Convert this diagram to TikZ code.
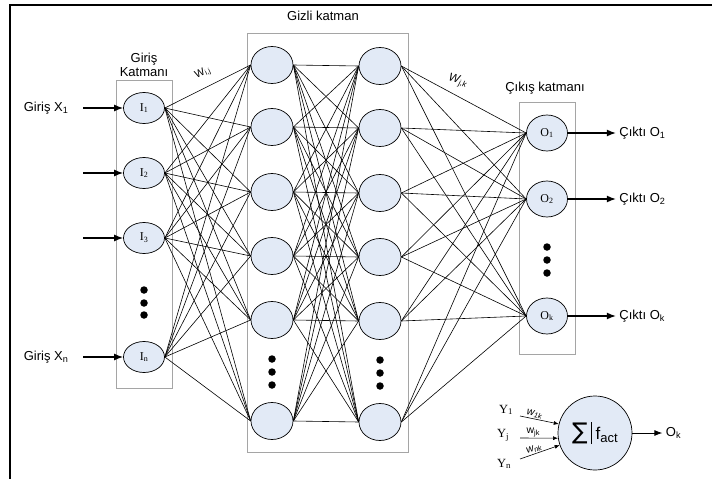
\documentclass[tikz,border=0pt]{standalone}
\usepackage{fontspec}
\setmainfont{Liberation Sans}
\newfontfamily\seriffont{Liberation Serif}
\newfontfamily\symbfont{DejaVu Sans}
\usepackage{tikz}
\usetikzlibrary{shapes,arrows.meta,positioning}

\definecolor{neuronblue}{RGB}{226,234,246}
\definecolor{boxgray}{RGB}{165,165,165}

\begin{document}
\begin{tikzpicture}[
        x=1pt, y=-1pt, line width=0.6pt, node distance=4pt,
        inout/.style={draw, ellipse, fill=neuronblue, line width=0.7pt,
                      minimum width=41pt, minimum height=31pt, inner sep=0pt,
                      font=\seriffont\fontsize{12}{13}\selectfont},
        hidden/.style={draw, ellipse, fill=neuronblue, line width=0.7pt,
                       minimum width=42pt, minimum height=37pt, inner sep=0pt},
        layerbox/.style={draw=boxgray, line width=0.9pt},
        bigdot/.style={fill, circle, inner sep=0pt, minimum size=7.5pt},
        txt/.style={font=\fontsize{13}{14}\selectfont},
        ytxt/.style={font=\seriffont\fontsize{12.5}{13}\selectfont},
        wtxt/.style={font=\fontsize{10.5}{11}\selectfont, inner sep=1pt},
        feed/.style={-{Latex[length=9pt,width=7pt]}, line width=1.3pt},
        thinfeed/.style={-{Latex[length=5pt,width=4pt]}, line width=0.6pt}
    ]
    \useasboundingbox (0,0) rectangle (712,479);
    \draw[line width=2pt] (10,479) -- (10,5) -- (712,5);

    % layer boxes
    \draw[layerbox] (116,80) rectangle (172,388);
    \draw[layerbox] (247,33) rectangle (408,452);
    \draw[layerbox] (519,102) rectangle (575,354);

    \node[txt, align=center] (tin) at (144,65) {Giriş\\Katmanı};
    \node[txt] (thid) at (323,16) {Gizli katman};
    \node[txt] (tout) at (545,88) {Çıkış katmanı};

    % input layer
    \node[inout] (i1) at (144,108) {I\textsubscript{1}};
    \node[inout] (i2) at (144,173) {I\textsubscript{2}};
    \node[inout] (i3) at (144,238) {I\textsubscript{3}};
    \node[inout] (in) at (144,357) {I\textsubscript{n}};
    \foreach \y in {290,303,315} \node[bigdot] at (144,\y) {};

    % hidden layers
    \foreach \y [count=\k] in {65,127,192,256,320,421} {
        \node[hidden] (a\k) at (272,\y) {};
        \node[hidden] (b\k) at (380,\y+1) {};
    }
    \foreach \y in {359,372,385} {
        \node[bigdot] at (272,\y) {};
        \node[bigdot] at (380,\y+1) {};
    }

    % output layer
    \node[inout, minimum height=36pt] (o1) at (547,133) {O\textsubscript{1}};
    \node[inout, minimum height=36pt] (o2) at (547,199) {O\textsubscript{2}};
    \node[inout, minimum height=36pt] (ok) at (547,316) {O\textsubscript{k}};
    \foreach \y in {247,260,273} \node[bigdot] at (547,\y) {};

    % weights
    \foreach \i in {1,2,3,n}
        \foreach \k in {1,...,6}
            \draw (i\i.east) -- (a\k.west);
    \foreach \j in {1,...,6}
        \foreach \k in {1,...,6}
            \draw (a\j.east) -- (b\k.west);
    \foreach \j in {1,...,6}
        \foreach \o in {1,2,k}
            \draw (b\j.east) -- (o\o.west);

    \node[wtxt, rotate=25] (wij) at (203,73) {W\textsubscript{i,j}};
    \node[wtxt, rotate=-15, font=\itshape\fontsize{11.5}{12}\selectfont] (wjk) at (458,81) {W\textsubscript{j,k}};

    % inputs
    \node[txt, anchor=east] (x1) at (72,108) {Giriş X\textsubscript{1}};
    \node[txt, anchor=east] (xn) at (72,357) {Giriş X\textsubscript{n}};
    \coordinate (x2) at (83,173);
    \coordinate (x3) at (83,238);
    \draw[feed, shorten <=11pt] (x1) -- (i1);
    \draw[feed] (x2) -- (i2);
    \draw[feed] (x3) -- (i3);
    \draw[feed, shorten <=11pt] (xn) -- (in);

    % outputs
    \node[txt, right=48pt of o1] (c1) {Çıktı O\textsubscript{1}};
    \node[txt, right=48pt of o2] (c2) {Çıktı O\textsubscript{2}};
    \node[txt, right=48pt of ok] (ck) {Çıktı O\textsubscript{k}};
    \draw[feed] (o1) -- (c1);
    \draw[feed] (o2) -- (c2);
    \draw[feed] (ok) -- (ck);

    % single neuron
    \node[draw, circle, fill=neuronblue, line width=0.7pt, minimum size=74pt, inner sep=0pt]
        (sum) at (595,433)
        {{\symbfont\fontsize{23}{24}\selectfont ∑}\hspace{3pt}\rule[-5pt]{1pt}{22pt}\hspace{4pt}{\fontsize{17}{18}\selectfont f\raisebox{-3pt}{\fontsize{13}{14}\selectfont act}}};
    \node[txt, right=30pt of sum] (osum) {O\textsubscript{k}};
    \draw[-{Latex[length=8pt,width=6pt]}, line width=0.8pt] (sum) -- (osum);

    \node[ytxt] (y1) at (506,410) {Y\textsubscript{1}};
    \node[ytxt] (yj) at (503,435) {Y\textsubscript{j}};
    \node[ytxt] (yn) at (504,464) {Y\textsubscript{n}};
    \coordinate (s1) at (520,416);
    \coordinate (sj) at (520,438);
    \coordinate (sn) at (520,459);
    \draw[thinfeed] (s1) -- (sum.166)
        node[wtxt, pos=0.35, above, sloped, font=\itshape\fontsize{10.5}{11}\selectfont] {w\textsubscript{1k}};
    \draw[thinfeed] (sj) -- (sum.188)
        node[wtxt, pos=0.35, above] {w\textsubscript{jk}};
    \draw[thinfeed] (sn) -- (sum.199)
        node[wtxt, pos=0.4, above, sloped, font=\itshape\fontsize{10.5}{11}\selectfont] {w\textsubscript{nk}};
\end{tikzpicture}
\end{document}
